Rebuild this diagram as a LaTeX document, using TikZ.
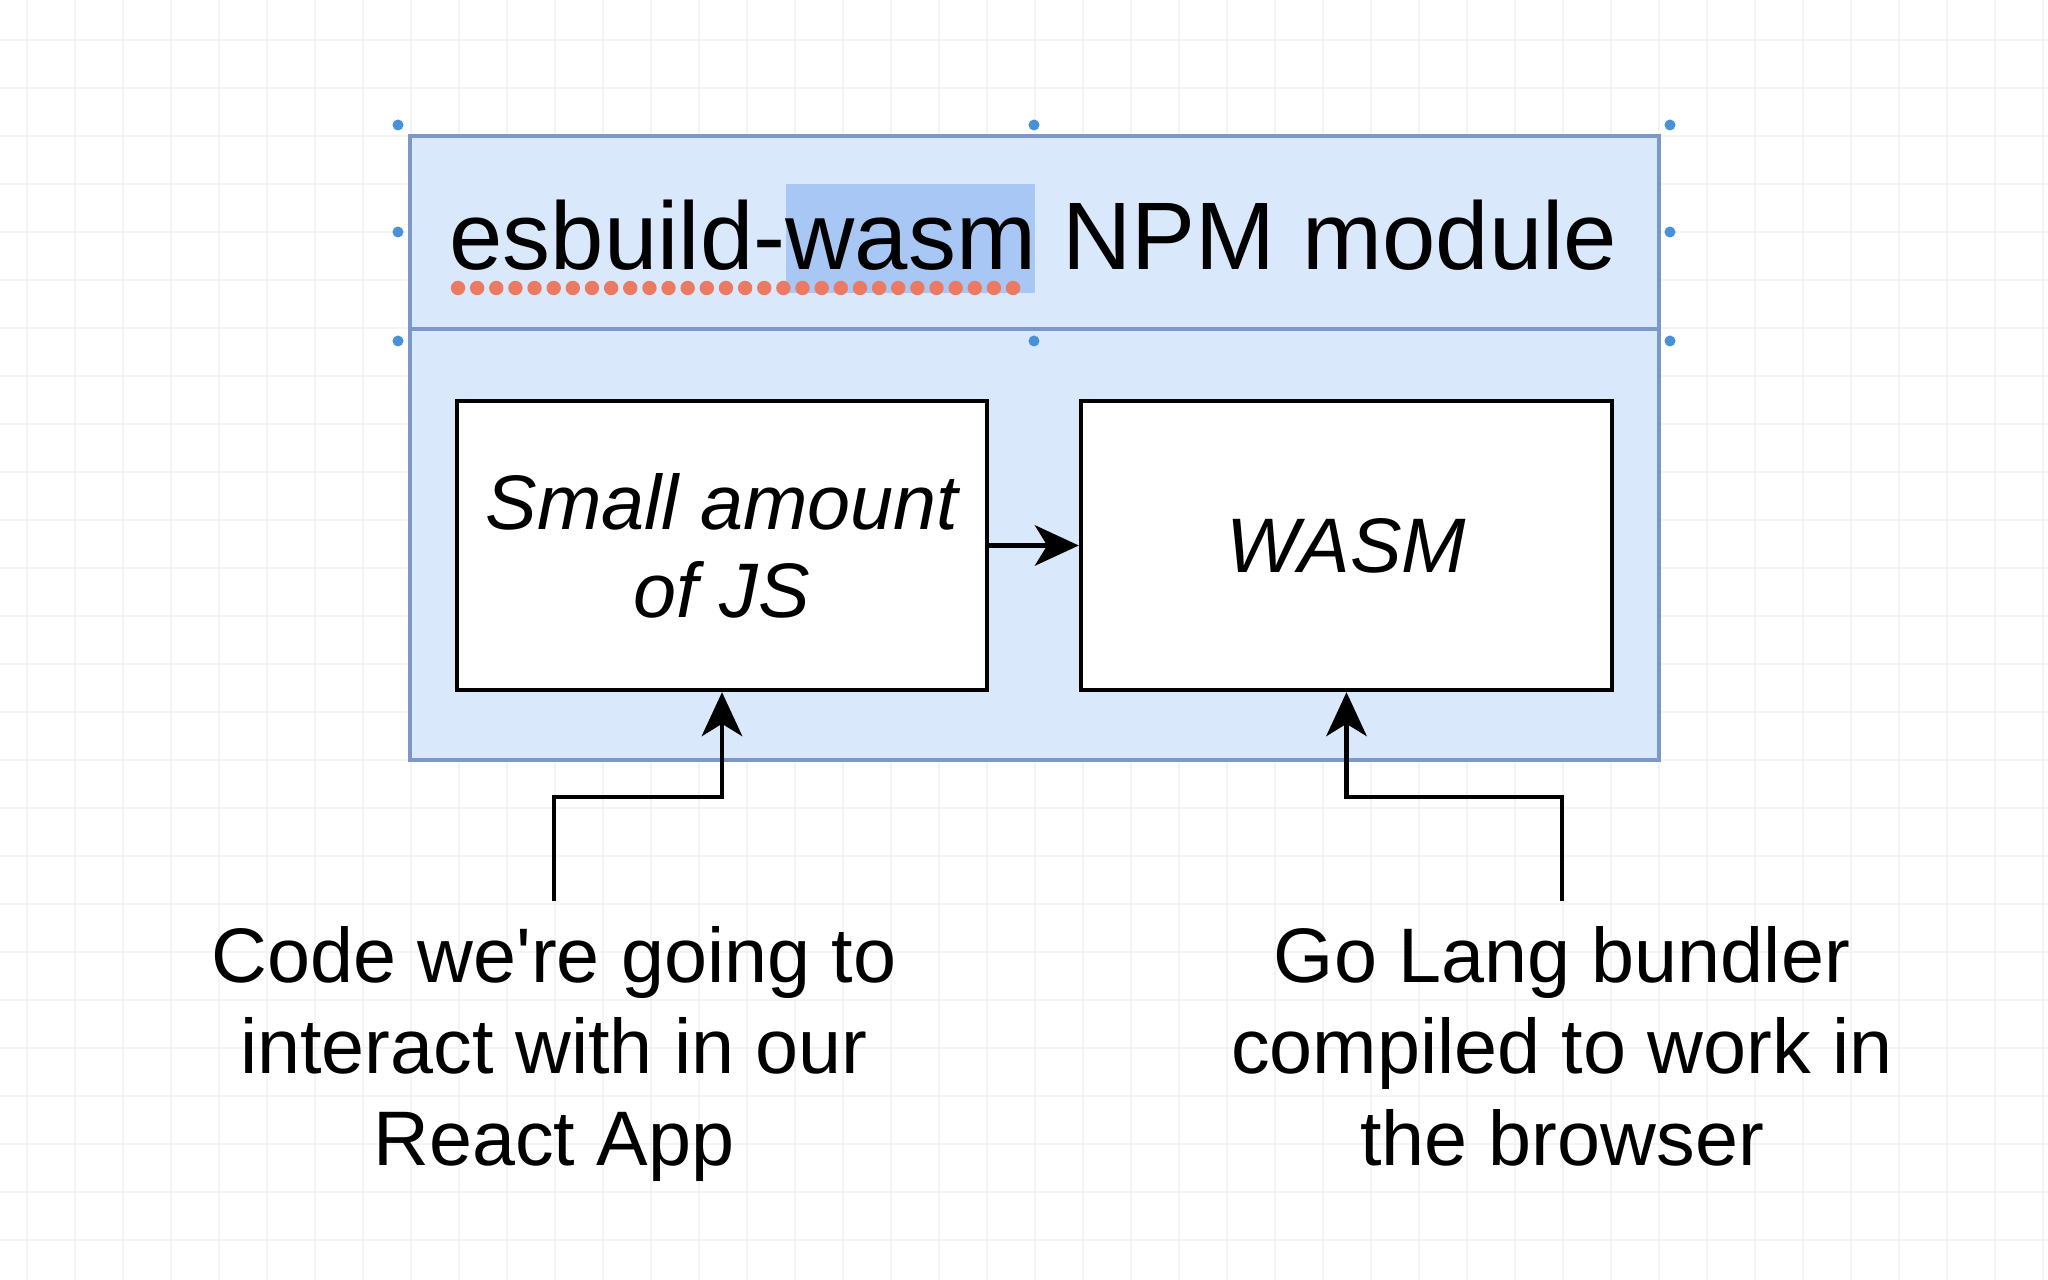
\documentclass[tikz,border=0pt]{standalone}
\usepackage{fontspec}
\setmainfont{Liberation Sans}[Ligatures=TeXOff]
\usetikzlibrary{arrows.meta}
\definecolor{boxfill}{HTML}{DAE8FC}
\definecolor{boxline}{HTML}{7C98C8}
\definecolor{hlblue}{RGB}{168,199,245}
\definecolor{spell}{RGB}{236,122,98}
\definecolor{handle}{RGB}{70,145,215}
\definecolor{gridc}{RGB}{244,244,244}
\tikzset{
  outerbox/.style={draw=boxline, fill=boxfill, line width=0.9pt, minimum width=12.49cm, inner sep=0pt},
  innerbox/.style={draw=black, fill=white, line width=1.25pt, minimum width=5.30cm, minimum height=2.89cm, inner sep=0pt,
     font=\fontsize{22}{25}\selectfont\itshape, align=center},
  labeltext/.style={font=\fontsize{22}{26}\selectfont, align=center, inner xsep=0pt, inner ysep=7pt, anchor=north},
  arr/.style={draw=black, line width=1.35pt, -{Stealth[length=12.5pt,width=11.5pt,inset=3.5pt]}},
  handledot/.style={fill=handle, draw=none},
}
\begin{document}
\begin{tikzpicture}[x=1cm,y=-1cm]
\useasboundingbox (0,0) rectangle (20.48,12.80);
\fill[white] (0,0) rectangle (20.48,12.80);
% grid
\foreach \gx in {0.27,0.75,...,20.48} \draw[gridc, line width=0.4pt] (\gx,0) -- (\gx,12.80);
\foreach \gy in {0.40,0.88,...,12.80} \draw[gridc, line width=0.4pt] (0,\gy) -- (20.48,\gy);
% container
\node[outerbox, minimum height=6.24cm] (outer) at (10.345,4.48) {};
\node[outerbox, minimum height=1.93cm] (header) at (10.345,2.325) {};
% highlight and spell marks
\fill[hlblue] (7.86,1.84) rectangle (10.35,2.93);
\foreach \i in {0,...,29} \fill[spell] ({4.58+\i*0.1914},2.88) circle (0.072);
\node[anchor=base, inner sep=0pt, font=\fontsize{27.3}{32}\selectfont] (title) at (10.335,2.70) {esbuild-wasm NPM module};
% inner boxes
\node[innerbox] (js) at (7.22,5.455) {Small amount\\of JS};
\node[innerbox, minimum width=5.31cm] (wasm) at (13.465,5.455) {WASM};
\draw[arr] (js.east) -- (wasm.west);
% labels
\node[labeltext] (lab1) at (5.54,9.01) {Code we're going to\\interact with in our\\React App};
\node[labeltext] (lab2) at (15.62,9.01) {Go Lang bundler\\compiled to work in\\the browser};
\draw[arr] (lab1.north) -- ++(0,-1.04) -| (js.south);
\draw[arr] (lab2.north) -- ++(0,-1.04) -| (wasm.south);
% selection handles
\foreach \hx in {3.98,10.34,16.70} {
  \fill[handledot] (\hx,1.25) circle (0.055);
  \fill[handledot] (\hx,3.41) circle (0.055);
}
\fill[handledot] (3.98,2.32) circle (0.055);
\fill[handledot] (16.70,2.32) circle (0.055);
\end{tikzpicture}
\end{document}
